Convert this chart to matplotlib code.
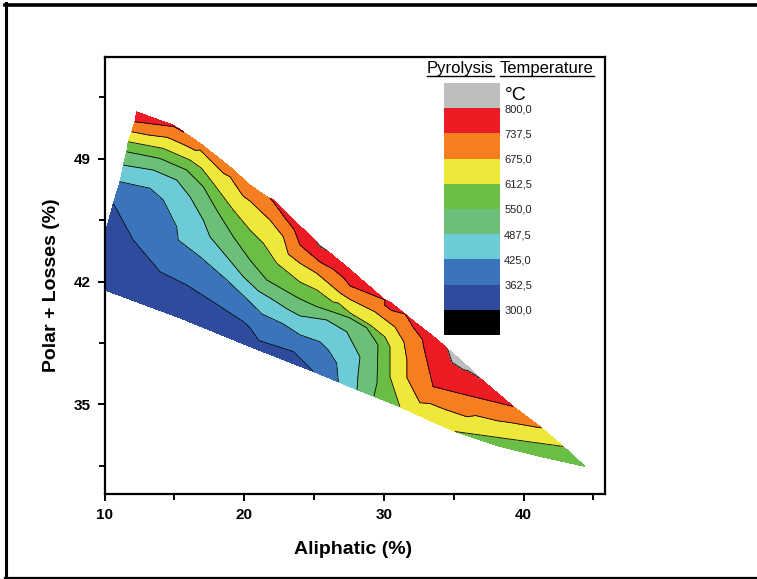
import numpy as np
import matplotlib
matplotlib.use("Agg")
import matplotlib.pyplot as plt
import matplotlib.tri as mtri
from matplotlib.colors import ListedColormap, BoundaryNorm
from matplotlib.cm import ScalarMappable
from matplotlib.lines import Line2D

plt.rcParams['font.family'] = ['Liberation Sans', 'DejaVu Sans']

# temperature classes of the map (degC)
levels = [300.0, 362.5, 425.0, 487.5, 550.0, 612.5, 675.0, 737.5, 800.0]
band_colors = ["#000000", "#2e4b9e", "#3a75bc", "#6dcbd7", "#6cbf78",
               "#6abd45", "#eee83b", "#f47e20", "#ed1c24", "#bebebe"]

# upper border of the sampled region: aliphatic, polar + losses, temperature
top_aliph = [12.30, 14.92, 15.64, 16.84, 18.98, 20.42, 21.61, 22.08, 23.99, 25.43, 27.34,
             30.44, 31.87, 33.66, 35.21, 36.02, 36.88, 39.26, 41.17, 42.84, 44.40]
top_polar = [51.67, 50.92, 50.54, 49.88, 48.54, 47.50, 46.84, 46.65, 45.17, 44.09, 42.85,
             40.84, 39.91, 38.80, 37.73, 37.15, 36.50, 34.89, 33.75, 32.61, 31.47]
top_temp = [775, 742, 738, 722, 715, 722, 733, 742, 770, 805, 785,
            770, 745, 780, 815, 810, 800, 737.5, 680, 612.5, 580]

# lower border (incl. the left side at 10 %)
bot_aliph = [10.0, 10.0, 15.40, 20.42, 24.95, 26.74, 28.08, 29.29, 31.15, 33.16,
             35.09, 38.31, 41.17]
bot_polar = [44.60, 41.53, 39.93, 38.30, 36.88, 36.29, 35.84, 35.47, 34.87, 34.13,
             33.46, 32.61, 32.04]
bot_temp = [335, 312, 325, 340, 362.5, 425, 487.5, 550, 612.5, 616,
            612.5, 598, 590]

# isotherms (aliphatic, polar + losses)
iso_362 = ([10.63, 12.06, 13.97, 15.88, 17.55, 19.94, 20.42, 23.51],
           [46.46, 44.37, 42.57, 41.81, 40.96, 39.72, 39.37, 38.02])
iso_425 = ([11.11, 13.26, 14.21, 15.17, 15.28, 16.84, 18.75, 20.42, 22.80, 23.99, 25.43,
            26.02, 26.62],
           [47.69, 47.32, 46.65, 45.13, 44.37, 43.42, 42.10, 40.84, 39.59, 38.97, 38.57,
            38.11, 37.36])
iso_487 = ([11.35, 13.49, 15.17, 16.12, 17.07, 17.55, 18.75, 19.94, 22.08, 23.99, 25.90,
            27.34, 28.29, 28.15],
           [48.64, 48.36, 47.79, 46.84, 45.51, 44.56, 43.42, 42.28, 40.96, 40.05, 39.82,
            39.14, 37.71, 36.69])
iso_550 = ([11.59, 13.97, 15.88, 17.07, 18.03, 19.22, 20.42, 21.61, 23.27, 25.19, 26.62,
            27.57, 28.77, 29.58, 29.51],
           [49.40, 49.02, 48.36, 47.41, 46.08, 44.56, 43.23, 42.10, 41.34, 40.58, 40.20,
            39.93, 39.37, 38.40, 36.23])
iso_612 = ([11.70, 14.21, 16.12, 17.79, 19.22, 20.42, 21.37, 22.33, 23.99, 26.36, 27.57,
            29.00, 30.08, 30.44, 30.44, 37.00, 39.00, 41.00],
           [49.97, 49.59, 48.93, 47.60, 46.08, 44.94, 44.19, 43.05, 41.98, 40.84, 40.22,
            39.54, 38.85, 38.28, 36.58, 33.25, 33.03, 32.81])
iso_675 = ([11.95, 14.69, 16.84, 18.98, 20.42, 21.85, 22.80, 23.99, 25.19, 26.86, 29.36,
            30.79, 31.43, 31.65, 31.65, 32.58, 35.95],
           [50.54, 50.16, 49.50, 47.98, 46.59, 45.51, 44.56, 43.05, 42.48, 41.36, 40.28,
            39.42, 38.57, 37.54, 36.52, 35.10, 34.30])
iso_737 = ([12.18, 14.69, 22.92, 23.99, 25.43, 27.57, 30.08, 31.51, 32.08, 33.52, 36.16],
           [51.11, 50.86, 45.63, 44.09, 43.12, 41.76, 40.96, 40.16, 39.42, 36.02, 35.49])

# collect all samples
x = list(top_aliph) + list(bot_aliph)
y = list(top_polar) + list(bot_polar)
t = list(top_temp) + list(bot_temp)
for lev, (xa, ya) in zip(levels[1:8], [iso_362, iso_425, iso_487, iso_550,
                                        iso_612, iso_675, iso_737]):
    x += xa
    y += ya
    t += [lev] * len(xa)
x, y, t = np.array(x), np.array(y), np.array(t, dtype=float)

tri = mtri.Triangulation(x, y)
tri.set_mask(mtri.TriAnalyzer(tri).get_flat_tri_mask(min_circle_ratio=0.01))

fig = plt.figure(figsize=(7.57, 5.79), dpi=100)
ax = fig.add_axes([104.5 / 757, 1 - 494 / 579, 500.5 / 757, 437 / 579])

fill_levels = [200.0] + levels + [900.0]
ax.tricontourf(tri, t, levels=fill_levels, colors=band_colors)
ax.tricontour(tri, t, levels=levels[1:], colors="black", linewidths=0.6)

ax.set_xlim(10, 45.83)
ax.set_ylim(29.9, 54.8)
ax.set_xticks([10, 20, 30, 40])
ax.set_xticks([15, 25, 35, 45], minor=True)
ax.set_yticks([35, 42, 49])
ax.set_yticks([31.5, 38.5, 45.5, 52.5], minor=True)
ax.tick_params(which="major", direction="out", length=5, width=1.4, pad=5,
               labelsize=11)
ax.tick_params(which="minor", direction="out", length=4, width=1.4)
for lab in ax.get_xticklabels() + ax.get_yticklabels():
    lab.set_fontweight("bold")
for sp in ax.spines.values():
    sp.set_linewidth(1.6)

ax.set_xlabel("Aliphatic (%)", fontsize=14, fontweight="bold")
ax.set_ylabel("Polar + Losses (%)", fontsize=14, fontweight="bold")
ax.xaxis.set_label_coords(0.4965, -0.108)
ax.yaxis.set_label_coords(-0.089, 0.478)

# colour key
cax = fig.add_axes([444 / 757, 1 - 335 / 579, 56 / 757, 252 / 579])
cmap = ListedColormap(band_colors)
norm = BoundaryNorm([237.5] + levels + [862.5], cmap.N)
cb = fig.colorbar(ScalarMappable(norm=norm, cmap=cmap), cax=cax, ticks=levels)
cb.set_ticklabels([f"{v:.1f}".replace(".", ",") for v in levels])
cb.ax.minorticks_off()
cb.ax.tick_params(which="both", length=0, labelsize=8, pad=3, colors="#222222")
cb.outline.set_visible(False)

fig.text(505 / 757, 1 - 96 / 579, "°C", fontsize=14, va="center", ha="left")
w1 = fig.text(427 / 757, 1 - 68 / 579, "Pyrolysis", fontsize=12, va="center", ha="left")
w2 = fig.text(500 / 757, 1 - 68 / 579, "Temperature", fontsize=12, va="center", ha="left")

fig.canvas.draw()
inv = fig.transFigure.inverted()
for w in (w1, w2):
    bb = w.get_window_extent()
    (x0, y0), (x1, _) = inv.transform([(bb.x0, bb.y0), (bb.x1, bb.y1)])
    fig.add_artist(Line2D([x0, x1], [y0, y0], color="black", lw=1.0,
                          transform=fig.transFigure))

# outer frame of the figure panel
fig.add_artist(Line2D([5 / 757, 1], [1 - 4.5 / 579] * 2, color="black", lw=2.6,
                      transform=fig.transFigure))
fig.add_artist(Line2D([5.5 / 757] * 2, [1.5 / 579, 1 - 3 / 579], color="black", lw=2.2,
                      transform=fig.transFigure))
fig.add_artist(Line2D([5 / 757, 1], [1.5 / 579] * 2, color="black", lw=1.6,
                      transform=fig.transFigure))

fig.savefig("out.png", dpi=100)
